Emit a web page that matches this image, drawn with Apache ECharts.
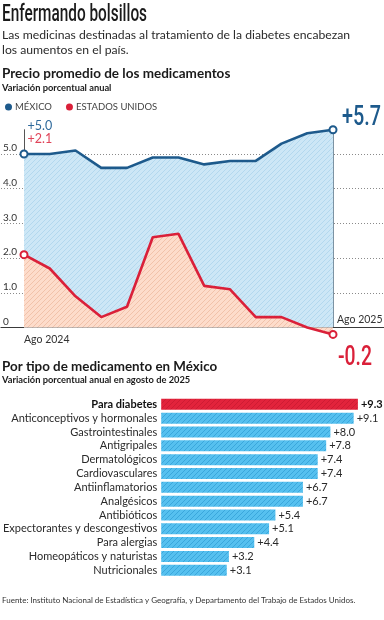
<!DOCTYPE html>
<html><head><meta charset="utf-8">
<script src="https://cdn.jsdelivr.net/npm/echarts@6/dist/echarts.min.js"></script>
<style>html,body{margin:0;padding:0;background:#fff}#c{width:384px;height:620px}</style>
</head><body><div id="c"></div>
<script>
// ---- data ----
const months = ['Ago 2024','Sep 2024','Oct 2024','Nov 2024','Dic 2024','Ene 2025','Feb 2025','Mar 2025','Abr 2025','May 2025','Jun 2025','Jul 2025','Ago 2025'];
const mexico = [5.0,5.0,5.1,4.6,4.6,4.9,4.9,4.7,4.8,4.8,5.3,5.6,5.7];
const usa = [2.1,1.7,0.9,0.3,0.6,2.6,2.7,1.2,1.1,0.3,0.3,0.0,-0.2];
const seriesNames = ['MÉXICO','ESTADOS UNIDOS'];
const categories = ['Para diabetes','Anticonceptivos y hormonales','Gastrointestinales','Antigripales','Dermatológicos','Cardiovasculares','Antiinflamatorios','Analgésicos','Antibióticos','Expectorantes y descongestivos','Para alergias','Homeopáticos y naturistas','Nutricionales'];
const values = [9.3,9.1,8.0,7.8,7.4,7.4,6.7,6.7,5.4,5.1,4.4,3.2,3.1];
const titleText = 'Enfermando bolsillos';
const subLines = ['Las medicinas destinadas al tratamiento de la diabetes encabezan','los aumentos en el país.'];
const sec1 = ['Precio promedio de los medicamentos','Variación porcentual anual'];
const sec2 = ['Por tipo de medicamento en México','Variación porcentual anual en agosto de 2025'];
const source = 'Fuente: Instituto Nacional de Estadística y Geografía, y Departamento del Trabajo de Estados Unidos.';

// ---- helpers ----
function hatch(bg, line, size, lw){
  const c=document.createElement('canvas'); c.width=c.height=size;
  const g=c.getContext('2d'); g.fillStyle=bg; g.fillRect(0,0,size,size);
  g.strokeStyle=line; g.lineWidth=lw; g.beginPath();
  g.moveTo(0,size); g.lineTo(size,0);
  g.moveTo(-1,1); g.lineTo(1,-1);
  g.moveTo(size-1,size+1); g.lineTo(size+1,size-1);
  g.stroke();
  return {image:c, repeat:'repeat'};
}
const mctx = document.createElement('canvas').getContext('2d');
function fit(text, font, target){ mctx.font = font; return target / mctx.measureText(text).width; }

const BLUE='#1d5a8c', RED='#da2039';
const hBlue = hatch('#cde7f6','#b3d8ee',5,1);
const hOrange = hatch('#fddccb','#f1c2aa',5,1);
const hBar = hatch('#56c0ef','#3aa7dc',5,1);
const hBarRed = hatch('#e2233b','#cd1c33',5,1);
const last = months.length-1;
const yMax = Math.max(...mexico);
const fmt = v => (v>=0?'+':'') + v.toFixed(1);
const FONT = 'Lato, "Open Sans", sans-serif';
const COND = 'Roboto, sans-serif';

const top0 = 129.7, bottom0 = 292.5;
const chart = echarts.init(document.getElementById('c'), null, {renderer:'canvas'});
const endPt = (v,i,color) => (i===0||i===last) ? {value:v, symbol:'circle', symbolSize:7, itemStyle:{color:'#fff', borderColor:color, borderWidth:2}} : v;

chart.setOption({
  animation:false,
  textStyle:{fontFamily:FONT},
  legend:{
    data:seriesNames, left:0, top:97, icon:'circle', itemWidth:7, itemHeight:7, itemGap:14,
    textStyle:{fontSize:9.5, color:'#444', padding:[0,0,0,-2], fontFamily:FONT}
  },
  grid:[
    {left:0, right:0, top:top0, bottom:bottom0},
    {left:24, right:51, top:top0, bottom:bottom0},
    {left:154, right:11.3, top:397.4, bottom:42.8}
  ],
  xAxis:[
    {gridIndex:0, type:'value', min:0, max:1, axisLine:{show:true, lineStyle:{color:'#3a3a3a', width:1.2}}, axisTick:{show:false}, axisLabel:{show:false}, splitLine:{show:false}},
    {gridIndex:1, type:'category', data:months, boundaryGap:false, axisLine:{show:false}, axisTick:{show:false},
      axisLabel:{interval:(i)=>i===0, align:'left', margin:7, fontSize:10.5, color:'#333'}, splitLine:{show:false}},
    {gridIndex:2, type:'value', min:0, max:10, show:false}
  ],
  yAxis:[
    {gridIndex:0, type:'value', min:0, max:yMax, interval:1, axisLine:{show:false}, axisTick:{show:false},
      axisLabel:{inside:true, margin:2, verticalAlign:'bottom', padding:[0,0,1,0], fontSize:10, color:'#333', showMaxLabel:false,
        formatter:v=>v===0?'0':v.toFixed(1)},
      splitLine:{show:true, showMinLine:false, showMaxLine:false, lineStyle:{type:[1,2], color:'#8a8a8a', width:1}}},
    {gridIndex:1, type:'value', min:0, max:yMax, axisLine:{show:true, onZero:false, lineStyle:{color:'#555', width:1}}, axisTick:{show:false}, axisLabel:{show:false}, splitLine:{show:false}},
    {gridIndex:1, type:'value', position:'right', min:0, max:yMax, axisLine:{show:true, onZero:false, lineStyle:{color:'#7d93a3', width:1}}, axisTick:{show:false}, axisLabel:{show:false}, splitLine:{show:false}},
    {gridIndex:2, type:'category', data:categories, inverse:true, axisLine:{show:false}, axisTick:{show:false},
      axisLabel:{interval:0, margin:4, fontSize:11, color:'#2a2a2a', fontFamily:FONT,
        formatter:(v,i)=> i===0 ? '{b|'+v+'}' : v, rich:{b:{fontWeight:'bold', fontSize:11, color:'#111', fontFamily:FONT}}}}
  ],
  series:[
    {name:seriesNames[0], type:'line', xAxisIndex:1, yAxisIndex:1, symbol:'none', z:3,
      data:mexico.map((v,i)=>endPt(v,i,BLUE)), color:BLUE,
      lineStyle:{color:BLUE, width:2.6}, areaStyle:{color:hBlue, opacity:1}},
    {name:seriesNames[1], type:'line', xAxisIndex:1, yAxisIndex:1, symbol:'none', z:4, clip:false,
      data:usa.map((v,i)=>endPt(v,i,RED)), color:RED,
      lineStyle:{color:RED, width:2.6}, areaStyle:{color:hOrange, opacity:1}},
    {type:'bar', xAxisIndex:2, yAxisIndex:3, barWidth:11,
      data:values.map((v,i)=> i===0 ? {value:v, itemStyle:{color:hBarRed}, label:{fontWeight:'bold', color:'#111'}} : v),
      itemStyle:{color:hBar},
      label:{show:true, position:'right', distance:3, fontSize:11, color:'#2a2a2a', fontFamily:FONT, formatter:p=>fmt(p.value)}}
  ]
});

const p0 = chart.convertToPixel({xAxisIndex:1, yAxisIndex:1}, [0, mexico[0]]);
const pL = chart.convertToPixel({xAxisIndex:1, yAxisIndex:1}, [last, mexico[last]]);
const uL = chart.convertToPixel({xAxisIndex:1, yAxisIndex:1}, [last, usa[last]]);
const ax = chart.convertToPixel({xAxisIndex:1, yAxisIndex:1}, [last, 0]);

const tFont = '500 23px '+COND, bFont = '500 28px '+COND;
const tMx = fmt(mexico[last]), tUs = fmt(usa[last]);
chart.setOption({graphic:[
  {type:'text', x:2, y:4, scaleX:fit(titleText,tFont,145), style:{text:titleText, font:tFont, fill:'#1a1a1a'}},
  {type:'text', x:2, y:29, style:{text:subLines[0], font:'12.2px '+FONT, fill:'#2a2a2a'}},
  {type:'text', x:2, y:44, style:{text:subLines[1], font:'12.2px '+FONT, fill:'#2a2a2a'}},
  {type:'text', x:2, y:67, style:{text:sec1[0], font:'bold 13.5px '+FONT, fill:'#1a1a1a'}},
  {type:'text', x:2, y:83, style:{text:sec1[1], font:'bold 9.3px '+FONT, fill:'#1a1a1a'}},
  {type:'text', x:2, y:360, style:{text:sec2[0], font:'bold 13.4px '+FONT, fill:'#1a1a1a'}},
  {type:'text', x:2, y:375, style:{text:sec2[1], font:'bold 9.3px '+FONT, fill:'#1a1a1a'}},
  {type:'text', x:2, y:596, style:{text:source, font:'8px '+FONT, fill:'#333'}},
  {type:'text', x:p0[0]+3.5, y:p0[1]-22, style:{text:fmt(mexico[0]), font:'12.5px '+FONT, fill:'#2f6a9c', verticalAlign:'bottom'}},
  {type:'text', x:p0[0]+3.5, y:p0[1]-9, style:{text:fmt(usa[0]), font:'12.5px '+FONT, fill:'#e0455a', verticalAlign:'bottom'}},
  {type:'text', x:pL[0]+9, y:pL[1]-12, scaleX:fit(tMx,bFont,39), style:{text:tMx, font:bFont, fill:BLUE, verticalAlign:'middle'}},
  {type:'text', x:uL[0]+5, y:uL[1]+24, scaleX:fit(tUs,bFont,34), style:{text:tUs, font:bFont, fill:RED, verticalAlign:'middle'}},
  {type:'text', x:ax[0]+4, y:ax[1]-2, style:{text:months[last], font:'10.5px '+FONT, fill:'#333', verticalAlign:'bottom'}}
]});
</script></body></html>
